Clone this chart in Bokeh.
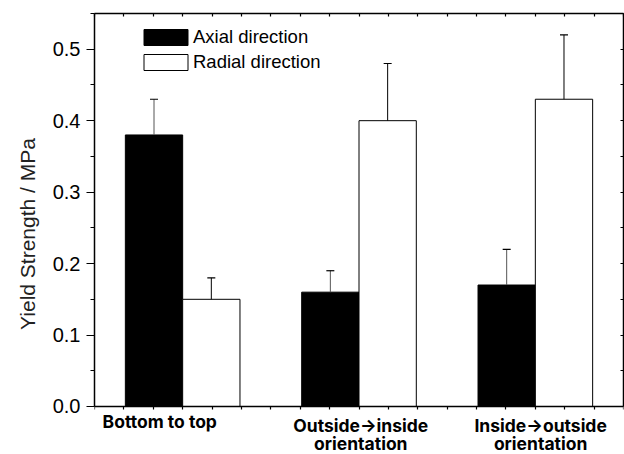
from bokeh.plotting import figure
from bokeh.models import (ColumnDataSource, Whisker, TeeHead, LinearAxis, FixedTicker,
                          SingleIntervalTicker, Range1d, Legend, LegendItem, Title,
                          PrintfTickFormatter, CustomJSTickFormatter)
from bokeh.core.properties import value
from bokeh.embed import file_html
from bokeh.resources import INLINE

# ---- data ----
groups = ["Bottom to top", "Outside\u2192inside\norientation", "Inside\u2192outside\norientation"]
series = ["Axial direction", "Radial direction"]
axial = [0.38, 0.16, 0.17]
axial_err = [0.05, 0.03, 0.05]
radial = [0.15, 0.40, 0.43]
radial_err = [0.03, 0.08, 0.09]
y_title = "Yield Strength / MPa"
y_max = 0.55

# ---- layout constants ----
FONT = "Liberation Sans"
CAT_FONT = "Inter"
BW = 0.325
Y_START = -0.0672          # frame extends below 0 to hold the category labels
centers = [i + 0.5 for i in range(len(groups))]
label_x = [0.37, 1.51, 2.53]
label_y1 = [-0.021, -0.027, -0.027]
line_gap = 0.0255
x_small = [k / 6 for k in range(19)]

ax_x = [c - BW / 2 for c in centers]
rad_x = [c + BW / 2 for c in centers]

src_ax = ColumnDataSource(dict(x=ax_x, top=axial, upper=[v + e for v, e in zip(axial, axial_err)]))
src_rad = ColumnDataSource(dict(x=rad_x, top=radial, upper=[v + e for v, e in zip(radial, radial_err)]))

lx, ly, lt = [], [], []
for i, g in enumerate(groups):
    for j, line in enumerate(g.split("\n")):
        lx.append(label_x[i])
        ly.append(label_y1[i] - j * line_gap)
        lt.append(line)
src_lab = ColumnDataSource(dict(x=lx, y=ly, text=lt))

blank = CustomJSTickFormatter(code="return ''")

p = figure(width=624, height=454, x_range=Range1d(0, 3), y_range=Range1d(Y_START, y_max),
           output_backend="svg", toolbar_location=None, x_axis_location=None,
           min_border_left=94, min_border_right=1, min_border_top=13, min_border_bottom=0)
p.grid.visible = False
p.outline_line_color = None

r1 = p.vbar(x="x", top="top", width=BW, source=src_ax, fill_color="black", line_color="black", line_width=1)
r2 = p.vbar(x="x", top="top", width=BW, source=src_rad, fill_color="white", line_color="black", line_width=1)

for src, col in ((src_ax, "#555555"), (src_rad, "black")):
    w = Whisker(base="x", lower="top", upper="upper", source=src, dimension="height",
                line_color=col, line_width=1, level="overlay",
                upper_head=TeeHead(size=8, line_color="black", line_width=1.2), lower_head=None)
    p.add_layout(w)

p.text(x="x", y="y", text="text", source=src_lab, text_align="center", text_baseline="alphabetic",
       text_font=value(CAT_FONT), text_font_style="bold", text_font_size="17.5px", text_color="black")

# left axis (ticks + numbers)
ya = p.yaxis[0]
ya.bounds = (0, y_max)
ya.ticker = SingleIntervalTicker(interval=0.1, num_minor_ticks=2)
ya.formatter = PrintfTickFormatter(format="%.1f")
ya.major_tick_out = 8
ya.major_tick_in = 0
ya.minor_tick_out = 4
ya.minor_tick_in = 0
ya.major_tick_line_width = 1.2
ya.minor_tick_line_width = 1.2
ya.axis_line_width = 1.5
ya.major_label_standoff = 6
ya.major_label_text_font = FONT
ya.major_label_text_font_size = "20px"
ya.major_label_text_color = "black"

# y title (shifted up to sit where the reference has it)
p.add_layout(Title(text=y_title, align="center", offset=19, standoff=21,
                   text_font=FONT, text_font_size="21px", text_font_style="normal",
                   text_color="#222222"), "left")

# top axis (ticks inside)
top = LinearAxis(ticker=FixedTicker(ticks=x_small), formatter=blank,
                 major_label_text_font_size="1px",
                 major_tick_in=3, major_tick_out=0, major_label_standoff=0,
                 axis_line_width=1.5, major_tick_line_width=1.2)
p.add_layout(top, "above")

# bottom line at y = 0 with small downward ticks
base = LinearAxis(fixed_location=0, ticker=FixedTicker(ticks=x_small), formatter=blank,
                  major_label_text_font_size="1px",
                  major_tick_in=3, major_tick_out=0, major_label_standoff=0,
                  axis_line_width=1.5, major_tick_line_width=1.2)
p.add_layout(base, "above")

# right axis (ticks inside)
right = LinearAxis(bounds=(0, y_max), ticker=SingleIntervalTicker(interval=0.05, num_minor_ticks=0),
                   formatter=blank, major_label_text_font_size="1px",
                   major_tick_in=3, major_tick_out=0, minor_tick_in=0, minor_tick_out=0,
                   major_label_standoff=0, axis_line_width=1.5, major_tick_line_width=1.2)
p.add_layout(right, "right")

legend = Legend(items=[LegendItem(label=series[0], renderers=[r1]),
                       LegendItem(label=series[1], renderers=[r2])],
                location=(44, 381), glyph_width=55, glyph_height=20,
                label_text_font=FONT, label_text_font_size="18.5px", label_text_color="black",
                label_standoff=0, label_height=16, spacing=3, padding=0, margin=0,
                border_line_color=None, background_fill_alpha=0)
p.add_layout(legend)

open("out.html", "w").write(file_html(p, INLINE))
